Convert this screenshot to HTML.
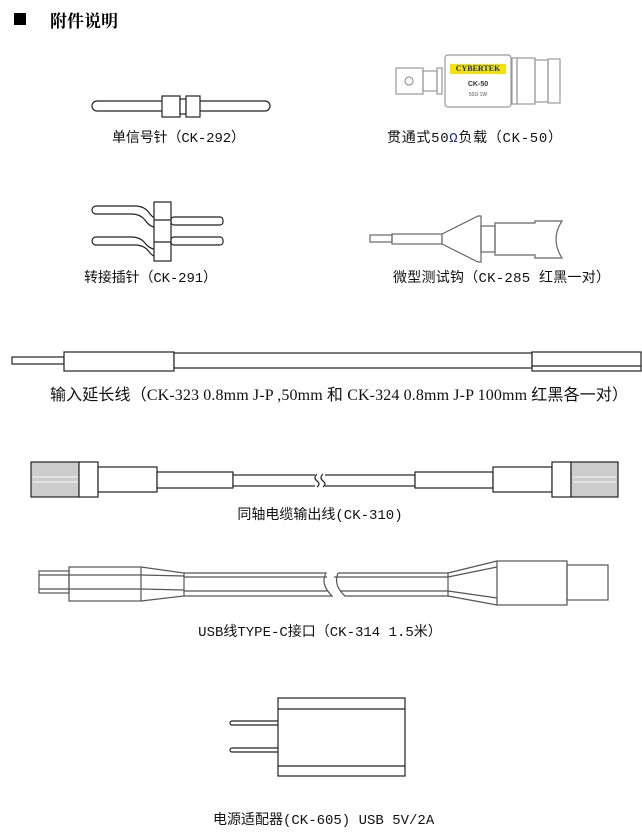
<!DOCTYPE html>
<html><head><meta charset="utf-8"><style>
html,body{margin:0;padding:0;background:#fff;width:642px;height:833px;overflow:hidden}
svg{display:block}
.l{font-family:"Liberation Mono","Noto Sans CJK SC",monospace;font-size:14px;fill:#111}
.s{font-family:"Liberation Serif","Noto Serif CJK SC",serif;font-size:16px;fill:#111}
</style></head><body>
<svg width="642" height="833" viewBox="0 0 642 833" xmlns="http://www.w3.org/2000/svg" fill="none" stroke="#222" stroke-width="1.2">
<rect x="14" y="13" width="12" height="12" fill="#000" stroke="none"/>
<text x="50" y="27" font-family="Liberation Serif,'Noto Serif CJK SC',serif" font-size="17" font-weight="bold" fill="#000" stroke="none">附件说明</text>

<!-- single pin -->
<rect x="92" y="101" width="178" height="10" rx="5" fill="#fff"/>
<rect x="162" y="96" width="18" height="21" fill="#fff"/>
<rect x="180" y="99" width="6" height="15" fill="#fff"/>
<rect x="186" y="96" width="14" height="21" fill="#fff"/>
<text class="l" x="112" y="142" stroke="none" font-family="Noto Sans CJK SC,sans-serif" textLength="133" lengthAdjust="spacing">单信号针（CK-292）</text>

<!-- CK-50 -->
<g stroke="#999">
<rect x="396" y="68" width="27" height="26"/>
<rect x="423" y="71" width="14" height="20"/>
<rect x="437" y="68" width="5" height="26"/>
<rect x="445" y="55" width="66" height="52" rx="3"/>
<rect x="512" y="58" width="5" height="46"/>
<rect x="517" y="58" width="18" height="46"/>
<rect x="535" y="60" width="13" height="42"/>
<rect x="548" y="59" width="12" height="44"/>
<circle cx="409" cy="81" r="4"/>
</g>
<rect x="450" y="64" width="56" height="10" fill="#f5e400" stroke="none"/>
<text x="478" y="71" text-anchor="middle" font-family="Liberation Serif,serif" font-size="8" font-weight="bold" fill="#1a2a9a" stroke="none">CYBERTEK</text>
<text x="478" y="86" text-anchor="middle" font-family="Liberation Sans,sans-serif" font-size="7" font-weight="bold" fill="#333" stroke="none">CK-50</text>
<text x="478" y="96" text-anchor="middle" font-family="Liberation Sans,sans-serif" font-size="5" fill="#555" stroke="none">50Ω 1W</text>
<text class="l" x="387" y="142" stroke="none" font-family="Noto Sans CJK SC,sans-serif" textLength="175" lengthAdjust="spacing">贯通式50<tspan fill="#1a2aa0">Ω</tspan>负载（CK-50）</text>

<!-- CK-291 -->
<path d="M96 206 H135 Q145 206 150 214 Q155 220 160 221" />
<path d="M96 214 H132 Q140 214 145 220 Q150 228 160 228" />
<path d="M96 206 A4 4 0 0 0 96 214"/>
<path d="M96 237 H132 Q140 237 145 243 Q150 250 160 250" />
<path d="M96 245 H135 Q145 245 150 253 Q155 258 160 258" />
<path d="M96 237 A4 4 0 0 0 96 245"/>
<rect x="154" y="202" width="17" height="59" fill="#fff"/>
<line x1="154" y1="220" x2="171" y2="220"/><line x1="154" y1="242" x2="171" y2="242"/>
<rect x="171" y="217" width="52" height="8" rx="3" fill="#fff"/>
<rect x="171" y="237" width="52" height="8" rx="3" fill="#fff"/>
<text class="l" x="84" y="282" stroke="none" font-family="Noto Sans CJK SC,sans-serif" textLength="133" lengthAdjust="spacing">转接插针（CK-291）</text>

<!-- CK-285 -->
<g stroke="#666">
<rect x="370" y="235" width="22" height="7"/>
<rect x="392" y="234" width="50" height="10"/>
<path d="M442 234 L478 216 L481 216 L481 262 L478 262 L442 244 Z" fill="#fff"/>
<rect x="481" y="226" width="14" height="26"/>
<path d="M495 223 H535 V221 H562 Q550 239 562 258 H535 V255 H495 Z"/>
</g>
<text class="l" x="393" y="282" stroke="none" font-family="Noto Sans CJK SC,sans-serif" textLength="217" lengthAdjust="spacing">微型测试钩（CK-285 红黑一对）</text>

<!-- extension -->
<rect x="12" y="357" width="52" height="7" fill="#fff"/>
<rect x="64" y="352" width="110" height="19" fill="#fff"/>
<rect x="174" y="353" width="358" height="15" fill="#fff"/>
<rect x="532" y="352" width="109" height="19" fill="#fff"/>
<line x1="532" y1="366" x2="641" y2="366"/>
<text class="s" x="50" y="400" stroke="none" textLength="578" lengthAdjust="spacing"><tspan font-family="Noto Sans CJK SC,sans-serif">输入延长线（</tspan>CK-323 0.8mm J-P ,50mm <tspan font-family="Noto Sans CJK SC,sans-serif">和</tspan> CK-324 0.8mm J-P 100mm <tspan font-family="Noto Sans CJK SC,sans-serif">   红黑各一对）</tspan></text>

<!-- coax -->
<g>
<rect x="31" y="462" width="48" height="35" fill="#ccc"/>
<line x1="33" y1="477" x2="78" y2="477" stroke="#eee"/><line x1="33" y1="482" x2="78" y2="482" stroke="#eee"/>
<rect x="79" y="462" width="19" height="35" fill="#fff"/>
<rect x="98" y="467" width="59" height="25" fill="#fff"/>
<rect x="157" y="472" width="76" height="16" fill="#fff"/>
<rect x="233" y="475" width="182" height="11" fill="#fff"/>
<rect x="415" y="472" width="78" height="16" fill="#fff"/>
<rect x="493" y="467" width="59" height="25" fill="#fff"/>
<rect x="552" y="462" width="19" height="35" fill="#fff"/>
<rect x="571" y="462" width="47" height="35" fill="#ccc"/>
<line x1="573" y1="477" x2="616" y2="477" stroke="#eee"/><line x1="573" y1="482" x2="616" y2="482" stroke="#eee"/>
<rect x="315" y="473" width="10" height="15" fill="#fff" stroke="none"/>
<path d="M317 474 Q313 478 317 481 Q321 484 317 487 M323 474 Q319 478 323 481 Q327 484 323 487"/>
</g>
<text class="l" x="320" y="519" text-anchor="middle" stroke="none" font-family="Noto Sans CJK SC,sans-serif">同轴电缆输出线(CK-310)</text>

<!-- USB -->
<g stroke="#555">
<rect x="39" y="571" width="30" height="22"/>
<line x1="39" y1="575" x2="69" y2="575"/><line x1="39" y1="589" x2="69" y2="589"/>
<rect x="69" y="567" width="72" height="34"/>
<line x1="69" y1="575" x2="141" y2="575"/><line x1="69" y1="589" x2="141" y2="589"/>
<path d="M141 567 L184 573 V596 L141 601"/>
<path d="M141 575 L184 576 M141 589 L184 590"/>
<path d="M184 573 H326 Q320 584 332 596 H184"/>
<line x1="184" y1="577" x2="327" y2="577"/><line x1="184" y1="591" x2="327" y2="591"/>
<path d="M338 573 H448 V596 H345 Q333 585 338 573"/>
<line x1="334" y1="577" x2="448" y2="577"/><line x1="340" y1="591" x2="448" y2="591"/>
<path d="M448 573 L497 561 M448 596 L497 605 M448 577 L497 567 M448 591 L497 598"/>
<rect x="497" y="561" width="70" height="44"/>
<rect x="567" y="565" width="41" height="35"/>
</g>
<text class="l" x="320" y="636" text-anchor="middle" stroke="none" font-family="Noto Sans CJK SC,sans-serif">USB线TYPE-C接口（CK-314 1.5米）</text>

<!-- power adapter -->
<rect x="230" y="721" width="50" height="4" rx="2" fill="#fff"/>
<rect x="230" y="748" width="50" height="4" rx="2" fill="#fff"/>
<rect x="278" y="698" width="127" height="78" fill="#fff"/>
<line x1="278" y1="709" x2="405" y2="709"/><line x1="278" y1="766" x2="405" y2="766"/>
<text class="l" x="213" y="824" stroke="none" font-family="Noto Sans CJK SC,sans-serif">电源适配器(CK-605) USB 5V/2A</text>
</svg>
</body></html>
